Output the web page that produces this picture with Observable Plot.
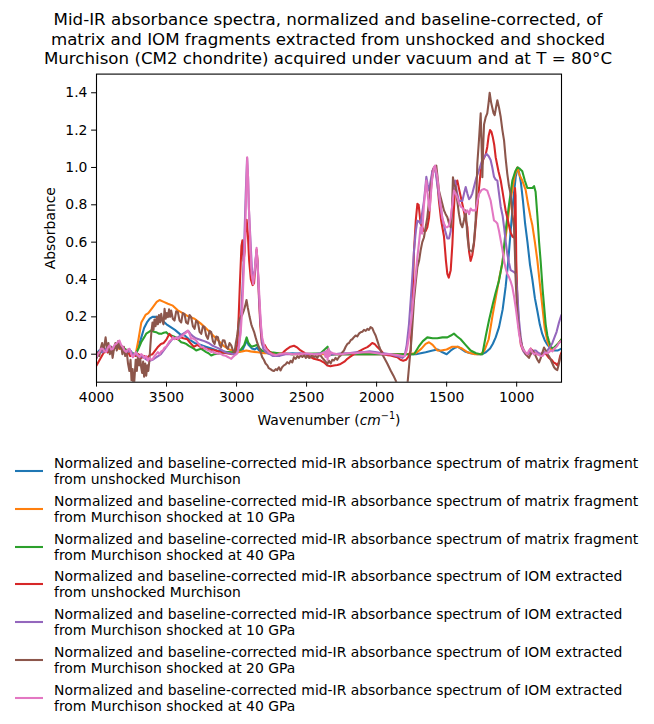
<!DOCTYPE html>
<html>
<head>
<meta charset="utf-8">
<script src="https://cdn.jsdelivr.net/npm/d3@7"></script>
<script src="https://cdn.jsdelivr.net/npm/@observablehq/plot@0.6"></script>
<style>
  body { margin: 0; background: #fff; font-family: "DejaVu Sans", sans-serif; color: #000; }
  #wrap { width: 654px; }
  #title { height: 69px; box-sizing: border-box; padding-top: 10px; padding-left: 2px; text-align: center; font-size: 16.67px; line-height: 19.6px; white-space: pre-line; }
  #chart svg { display: block; }
  #legend { padding-top: 20px; }
  .entry { display: flex; align-items: center; height: 32px; margin-bottom: 5.8px; }
  .entry svg { margin-left: 15px; width: 28px; height: 10px; flex: none; }
  .entry span { margin-left: 11px; font-size: 13.9px; line-height: 16px; white-space: pre-line; }
</style>
</head>
<body>
<div id="wrap">
  <div id="title"></div>
  <div id="chart"></div>
  <div id="legend"></div>
</div>
<script>
const titleText = "Mid-IR absorbance spectra, normalized and baseline-corrected, of\nmatrix and IOM fragments extracted from unshocked and shocked\nMurchison (CM2 chondrite) acquired under vacuum and at T = 80°C";
const xLabel = "Wavenumber (cm-1)";
const yLabel = "Absorbance";
const xTicks = [4000, 3500, 3000, 2500, 2000, 1500, 1000];
const yTicks = [0.0, 0.2, 0.4, 0.6, 0.8, 1.0, 1.2, 1.4];
const seriesLabels = [
  "Normalized and baseline-corrected mid-IR absorbance spectrum of matrix fragment\nfrom unshocked Murchison",
  "Normalized and baseline-corrected mid-IR absorbance spectrum of matrix fragment\nfrom Murchison shocked at 10 GPa",
  "Normalized and baseline-corrected mid-IR absorbance spectrum of matrix fragment\nfrom Murchison shocked at 40 GPa",
  "Normalized and baseline-corrected mid-IR absorbance spectrum of IOM extracted\nfrom unshocked Murchison",
  "Normalized and baseline-corrected mid-IR absorbance spectrum of IOM extracted\nfrom Murchison shocked at 10 GPa",
  "Normalized and baseline-corrected mid-IR absorbance spectrum of IOM extracted\nfrom Murchison shocked at 20 GPa",
  "Normalized and baseline-corrected mid-IR absorbance spectrum of IOM extracted\nfrom Murchison shocked at 40 GPa"
];
const colors = ["#1f77b4", "#ff7f0e", "#2ca02c", "#d62728", "#9467bd", "#8c564b", "#e377c2"];

// [wavenumber cm-1, absorbance]
const matrixUnshocked = [[4000,0.0],[3980,0.02],[3960,0.01],[3940,0.03],[3920,0.02],[3900,0.04],[3880,0.03],[3860,0.05],[3840,0.06],[3820,0.04],[3800,0.02],[3780,0.01],[3760,0.02],[3740,0.0],[3720,0.0],[3700,0.04],[3680,0.09],[3660,0.14],[3640,0.17],[3620,0.19],[3600,0.2],[3580,0.2],[3550,0.2],[3530,0.18],[3500,0.16],[3470,0.145],[3440,0.13],[3400,0.105],[3370,0.1],[3340,0.08],[3300,0.06],[3260,0.05],[3220,0.04],[3180,0.03],[3140,0.02],[3100,0.015],[3060,0.01],[3020,0.0],[2990,0.01],[2960,0.02],[2940,0.05],[2928,0.075],[2915,0.05],[2890,0.03],[2870,0.025],[2855,0.035],[2840,0.02],[2800,0.01],[2750,0.0],[2700,0.0],[2600,0.005],[2500,0.0],[2400,0.0],[2360,0.01],[2340,-0.005],[2300,0.0],[2200,0.0],[2100,0.0],[2000,0.0],[1900,0.0],[1800,0.0],[1720,0.0],[1650,0.01],[1600,0.02],[1565,0.025],[1530,0.01],[1500,0.0],[1470,0.02],[1440,0.035],[1420,0.04],[1400,0.03],[1370,0.015],[1330,0.005],[1280,0.0],[1250,0.0],[1220,0.01],[1190,0.03],[1170,0.056],[1150,0.09],[1126,0.145],[1100,0.24],[1079,0.36],[1060,0.5],[1043,0.66],[1025,0.82],[1007,0.95],[992,1.0],[982,0.97],[970,0.92],[955,0.82],[940,0.7],[923,0.6],[905,0.48],[888,0.4],[870,0.3],[852,0.23],[835,0.16],[818,0.11],[800,0.075],[780,0.05],[757,0.03],[730,0.02],[705,0.02],[680,0.03]];

const matrix10GPa = [[4000,0.0],[3980,0.01],[3960,0.02],[3940,0.01],[3920,0.03],[3900,0.02],[3880,0.03],[3860,0.04],[3840,0.03],[3820,0.03],[3800,0.02],[3780,0.01],[3760,0.015],[3740,0.0],[3720,0.0],[3700,0.08],[3680,0.17],[3650,0.21],[3630,0.22],[3600,0.25],[3570,0.28],[3550,0.29],[3520,0.28],[3490,0.27],[3455,0.26],[3420,0.235],[3384,0.22],[3340,0.2],[3300,0.19],[3257,0.165],[3220,0.14],[3180,0.11],[3140,0.08],[3093,0.045],[3050,0.025],[2995,0.01],[2960,0.015],[2930,0.02],[2900,0.015],[2850,0.01],[2800,0.005],[2700,0.005],[2600,0.0],[2400,0.0],[2200,0.0],[2000,0.0],[1800,0.0],[1720,0.005],[1680,0.03],[1650,0.055],[1626,0.064],[1600,0.05],[1567,0.02],[1540,0.02],[1500,0.025],[1460,0.04],[1424,0.04],[1390,0.03],[1350,0.01],[1300,0.0],[1257,0.0],[1230,0.02],[1200,0.08],[1174,0.2],[1150,0.3],[1126,0.4],[1102,0.49],[1080,0.62],[1066,0.7],[1050,0.8],[1031,0.88],[1015,0.95],[1000,0.99],[995,1.0],[980,0.96],[960,0.93],[936,0.88],[918,0.8],[900,0.73],[888,0.69],[870,0.6],[852,0.5],[835,0.38],[816,0.25],[800,0.14],[781,0.07],[760,0.03],[740,0.02],[720,0.04],[700,0.06],[680,0.08]];

const matrix40GPa = [[4000,0.0],[3960,0.02],[3920,0.01],[3880,0.03],[3840,0.04],[3800,0.03],[3760,0.01],[3720,0.0],[3700,0.03],[3681,0.064],[3660,0.09],[3645,0.11],[3625,0.12],[3610,0.127],[3590,0.12],[3574,0.118],[3555,0.11],[3538,0.109],[3520,0.115],[3502,0.118],[3485,0.105],[3467,0.1],[3449,0.095],[3431,0.09],[3410,0.075],[3395,0.064],[3375,0.06],[3360,0.055],[3340,0.045],[3324,0.038],[3305,0.03],[3288,0.02],[3270,0.025],[3252,0.029],[3235,0.02],[3217,0.011],[3200,0.005],[3181,-0.007],[3160,0.0],[3133,0.002],[3100,0.008],[3062,0.011],[3030,0.01],[3000,0.015],[2970,0.025],[2945,0.05],[2928,0.09],[2915,0.06],[2895,0.04],[2870,0.045],[2855,0.05],[2840,0.035],[2820,0.02],[2790,0.015],[2750,0.01],[2700,0.005],[2600,0.0],[2400,0.005],[2350,0.04],[2340,0.0],[2200,0.0],[2000,0.0],[1850,0.0],[1770,0.0],[1733,0.0],[1700,0.04],[1670,0.07],[1638,0.09],[1600,0.085],[1567,0.085],[1530,0.09],[1495,0.09],[1470,0.1],[1448,0.11],[1425,0.095],[1400,0.08],[1365,0.05],[1329,0.02],[1290,0.005],[1257,0.0],[1245,0.0],[1220,0.1],[1198,0.18],[1170,0.27],[1150,0.33],[1126,0.395],[1100,0.5],[1079,0.66],[1055,0.8],[1031,0.93],[1010,0.98],[995,1.0],[980,0.995],[960,0.98],[942,0.93],[924,0.89],[905,0.89],[888,0.89],[876,0.9],[865,0.87],[852,0.74],[840,0.6],[829,0.5],[815,0.35],[800,0.22],[793,0.16],[781,0.1],[770,0.07],[757,0.04],[740,0.03],[720,0.045],[700,0.06],[680,0.08]];

const iomUnshocked = [[4000,-0.06],[3985,-0.04],[3970,-0.02],[3955,0.0],[3940,0.02],[3920,0.01],[3900,0.03],[3880,0.02],[3860,0.05],[3840,0.04],[3820,0.03],[3800,0.01],[3780,0.02],[3760,-0.01],[3740,0.0],[3720,-0.01],[3700,0.0],[3680,-0.02],[3660,-0.01],[3640,-0.02],[3620,-0.005],[3600,0.0],[3580,0.02],[3560,0.04],[3540,0.055],[3520,0.06],[3500,0.08],[3479,0.109],[3460,0.09],[3440,0.085],[3420,0.08],[3400,0.09],[3380,0.085],[3352,0.08],[3330,0.06],[3305,0.04],[3280,0.05],[3250,0.035],[3220,0.03],[3190,0.025],[3150,0.02],[3110,0.01],[3070,0.005],[3030,0.0],[3010,0.01],[2995,0.05],[2985,0.2],[2975,0.4],[2965,0.58],[2958,0.61],[2950,0.5],[2942,0.55],[2935,0.68],[2928,0.72],[2920,0.65],[2910,0.5],[2898,0.4],[2885,0.37],[2875,0.38],[2865,0.48],[2857,0.56],[2850,0.5],[2840,0.3],[2830,0.15],[2820,0.06],[2810,0.04],[2800,0.05],[2785,0.03],[2760,0.01],[2740,0.0],[2720,-0.01],[2700,-0.01],[2680,0.0],[2660,0.015],[2638,0.029],[2615,0.04],[2590,0.045],[2565,0.035],[2543,0.02],[2520,0.01],[2495,-0.007],[2470,-0.015],[2448,-0.025],[2420,-0.03],[2400,-0.034],[2375,-0.045],[2352,-0.061],[2330,-0.065],[2305,-0.061],[2280,-0.058],[2257,-0.052],[2230,-0.04],[2209,-0.025],[2185,-0.012],[2162,0.0],[2140,0.01],[2114,0.02],[2090,0.03],[2066,0.038],[2045,0.05],[2031,0.06],[2015,0.055],[1995,0.038],[1970,0.02],[1948,0.0],[1920,-0.005],[1900,-0.007],[1875,-0.012],[1852,-0.016],[1830,-0.03],[1810,-0.035],[1790,-0.03],[1770,-0.01],[1757,0.02],[1745,0.25],[1733,0.555],[1720,0.72],[1709,0.805],[1700,0.8],[1686,0.7],[1674,0.68],[1662,0.66],[1650,0.66],[1638,0.68],[1626,0.73],[1614,0.86],[1602,0.98],[1590,1.0],[1579,1.0],[1567,0.93],[1555,0.82],[1540,0.72],[1519,0.63],[1505,0.5],[1495,0.43],[1485,0.41],[1471,0.45],[1459,0.59],[1450,0.75],[1441,0.876],[1430,0.92],[1424,0.93],[1410,0.88],[1388,0.805],[1370,0.74],[1352,0.68],[1340,0.55],[1329,0.5],[1317,0.53],[1305,0.59],[1290,0.72],[1270,0.88],[1257,0.98],[1240,1.04],[1221,1.07],[1210,1.11],[1200,1.17],[1190,1.2],[1180,1.19],[1170,1.16],[1160,1.12],[1150,1.055],[1130,0.98],[1114,0.93],[1102,0.876],[1090,0.82],[1079,0.77],[1067,0.73],[1055,0.69],[1043,0.65],[1030,0.63],[1019,0.625],[1015,0.63],[1012,0.89],[1008,0.85],[1003,0.5],[995,0.3],[985,0.15],[970,0.05],[955,0.02],[940,0.01],[924,-0.005],[912,0.01],[900,0.03],[888,0.02],[876,0.0],[864,0.005],[850,0.0],[830,0.0],[810,0.01],[790,0.0],[770,-0.02],[750,-0.03],[735,-0.045],[722,-0.05],[710,-0.06],[698,-0.04],[690,-0.01],[680,0.01]];

const iom10GPa = [[4000,-0.02],[3985,0.0],[3970,0.02],[3955,0.01],[3940,0.03],[3920,0.02],[3900,0.04],[3880,0.03],[3860,0.05],[3840,0.06],[3820,0.04],[3800,0.02],[3780,0.01],[3760,0.02],[3740,0.0],[3720,0.0],[3700,-0.01],[3680,-0.01],[3660,-0.02],[3640,-0.03],[3620,-0.035],[3600,-0.03],[3580,-0.02],[3560,-0.01],[3540,0.0],[3520,0.02],[3500,0.04],[3480,0.06],[3460,0.08],[3440,0.085],[3420,0.09],[3400,0.1],[3380,0.11],[3360,0.12],[3345,0.125],[3330,0.11],[3310,0.095],[3290,0.085],[3270,0.08],[3250,0.075],[3230,0.07],[3200,0.06],[3170,0.045],[3140,0.035],[3110,0.025],[3080,0.01],[3050,0.005],[3020,0.0],[3000,0.005],[2990,0.02],[2975,0.1],[2965,0.25],[2955,0.4],[2945,0.6],[2935,0.85],[2925,1.05],[2918,0.95],[2912,0.78],[2900,0.6],[2890,0.45],[2880,0.4],[2870,0.45],[2862,0.52],[2856,0.54],[2850,0.48],[2842,0.35],[2833,0.22],[2820,0.08],[2810,0.03],[2790,0.01],[2760,0.0],[2740,-0.01],[2700,-0.01],[2650,0.0],[2600,0.0],[2550,0.005],[2500,0.0],[2450,0.0],[2400,0.005],[2370,0.01],[2355,-0.01],[2340,0.02],[2320,0.0],[2300,0.0],[2250,0.005],[2200,0.005],[2150,0.01],[2100,0.01],[2050,0.015],[2000,0.01],[1950,0.005],[1900,0.0],[1860,-0.01],[1830,-0.015],[1816,-0.02],[1800,-0.01],[1785,0.05],[1769,0.16],[1750,0.36],[1733,0.555],[1720,0.66],[1709,0.715],[1697,0.71],[1686,0.7],[1674,0.76],[1662,0.82],[1650,0.91],[1645,0.95],[1636,0.91],[1626,0.876],[1614,0.93],[1602,0.98],[1590,1.0],[1583,1.0],[1567,0.91],[1550,0.82],[1531,0.73],[1510,0.66],[1495,0.62],[1483,0.62],[1471,0.66],[1460,0.8],[1448,0.91],[1440,0.93],[1425,0.86],[1412,0.82],[1400,0.82],[1388,0.82],[1376,0.86],[1364,0.895],[1352,0.86],[1340,0.83],[1329,0.84],[1317,0.86],[1305,0.895],[1290,0.94],[1269,0.985],[1250,1.03],[1233,1.055],[1215,1.073],[1200,1.06],[1186,1.04],[1174,1.0],[1162,0.95],[1150,0.935],[1138,0.93],[1126,0.86],[1114,0.79],[1100,0.74],[1090,0.68],[1078,0.6],[1067,0.537],[1055,0.49],[1043,0.45],[1031,0.445],[1019,0.44],[1007,0.43],[995,0.32],[983,0.18],[971,0.09],[960,0.036],[948,0.01],[936,0.0],[924,0.0],[912,0.01],[900,0.0],[888,0.01],[876,0.02],[864,0.02],[850,0.01],[830,0.0],[816,0.005],[800,0.01],[780,0.02],[760,0.04],[745,0.06],[730,0.09],[715,0.12],[698,0.17],[685,0.2],[680,0.21]];

const iom20GPa = [[4000,-0.02],[3990,0.01],[3980,-0.01],[3970,0.03],[3960,0.06],[3950,0.02],[3943,0.05],[3935,0.09],[3925,0.03],[3915,0.06],[3905,0.0],[3895,0.04],[3885,-0.02],[3875,0.03],[3865,0.06],[3855,0.02],[3845,0.07],[3835,0.03],[3825,0.05],[3815,0.0],[3805,0.04],[3795,-0.01],[3785,0.02],[3775,-0.05],[3765,-0.09],[3757,-0.03],[3750,-0.14],[3742,-0.08],[3735,-0.2],[3728,-0.12],[3720,-0.03],[3712,-0.09],[3705,-0.016],[3695,-0.06],[3688,-0.02],[3681,-0.07],[3674,-0.1],[3667,-0.04],[3660,-0.12],[3652,-0.05],[3645,-0.115],[3637,-0.06],[3630,-0.09],[3622,-0.03],[3615,0.05],[3608,0.12],[3600,0.17],[3593,0.13],[3586,0.186],[3578,0.15],[3570,0.2],[3562,0.16],[3554,0.21],[3546,0.17],[3538,0.216],[3530,0.18],[3522,0.16],[3514,0.243],[3506,0.19],[3498,0.22],[3490,0.198],[3482,0.24],[3474,0.2],[3467,0.234],[3455,0.19],[3443,0.18],[3431,0.23],[3419,0.225],[3407,0.18],[3395,0.17],[3384,0.22],[3372,0.216],[3360,0.17],[3348,0.163],[3336,0.21],[3324,0.198],[3312,0.15],[3300,0.136],[3288,0.18],[3276,0.17],[3264,0.12],[3252,0.109],[3240,0.15],[3229,0.145],[3217,0.1],[3205,0.082],[3193,0.125],[3181,0.118],[3169,0.07],[3157,0.055],[3145,0.095],[3133,0.091],[3121,0.05],[3110,0.038],[3098,0.075],[3086,0.073],[3074,0.04],[3062,0.029],[3050,0.06],[3038,0.047],[3026,0.02],[3014,0.011],[3005,0.06],[2995,0.1],[2983,0.18],[2971,0.2],[2960,0.21],[2948,0.234],[2938,0.26],[2929,0.29],[2920,0.25],[2907,0.2],[2895,0.16],[2888,0.145],[2875,0.12],[2864,0.09],[2852,0.06],[2840,0.037],[2828,0.01],[2817,-0.016],[2805,-0.03],[2793,-0.05],[2780,-0.06],[2770,-0.075],[2758,-0.08],[2745,-0.087],[2733,-0.09],[2720,-0.08],[2710,-0.085],[2698,-0.07],[2686,-0.087],[2675,-0.07],[2662,-0.06],[2650,-0.055],[2638,-0.043],[2625,-0.05],[2614,-0.035],[2602,-0.044],[2590,-0.016],[2578,-0.025],[2565,-0.01],[2555,-0.02],[2543,-0.007],[2530,-0.015],[2518,-0.005],[2505,-0.02],[2495,-0.01],[2483,-0.02],[2471,-0.016],[2460,-0.005],[2448,-0.015],[2436,-0.01],[2424,-0.02],[2412,-0.005],[2400,-0.007],[2388,-0.02],[2376,-0.03],[2364,-0.04],[2352,-0.052],[2340,-0.035],[2328,-0.05],[2317,-0.03],[2305,-0.034],[2293,-0.02],[2281,-0.03],[2269,-0.015],[2257,-0.007],[2245,0.01],[2233,0.02],[2221,0.04],[2209,0.055],[2197,0.06],[2185,0.075],[2174,0.08],[2162,0.091],[2150,0.1],[2138,0.095],[2126,0.11],[2114,0.118],[2102,0.12],[2090,0.13],[2078,0.125],[2066,0.136],[2055,0.13],[2043,0.145],[2031,0.14],[2019,0.118],[2007,0.1],[1995,0.073],[1983,0.045],[1971,0.02],[1960,0.0],[1948,-0.016],[1924,-0.05],[1900,-0.087],[1880,-0.115],[1864,-0.14],[1850,-0.17],[1830,-0.22],[1810,-0.24],[1790,-0.2],[1781,-0.17],[1775,-0.12],[1769,-0.07],[1763,-0.02],[1757,0.02],[1745,0.15],[1733,0.29],[1720,0.39],[1709,0.466],[1697,0.5],[1686,0.555],[1674,0.6],[1662,0.625],[1650,0.68],[1638,0.733],[1626,0.82],[1614,0.895],[1602,0.95],[1590,1.0],[1574,1.01],[1565,0.95],[1555,0.876],[1543,0.84],[1531,0.805],[1519,0.77],[1507,0.75],[1495,0.733],[1483,0.7],[1471,0.68],[1463,0.75],[1455,0.948],[1448,0.91],[1436,0.895],[1424,0.82],[1412,0.75],[1400,0.7],[1388,0.68],[1376,0.72],[1364,0.77],[1352,0.63],[1340,0.56],[1329,0.555],[1317,0.55],[1305,0.6],[1293,0.716],[1281,1.02],[1269,1.15],[1257,1.29],[1250,1.1],[1245,0.948],[1240,1.1],[1233,1.23],[1221,1.27],[1210,1.29],[1200,1.35],[1193,1.4],[1183,1.35],[1174,1.32],[1165,1.29],[1157,1.28],[1148,1.32],[1138,1.36],[1126,1.32],[1114,1.27],[1102,1.2],[1090,1.144],[1079,1.05],[1067,0.966],[1055,0.9],[1043,0.858],[1031,0.75],[1019,0.68],[1013,0.55],[1007,0.39],[1001,0.3],[995,0.216],[983,0.13],[971,0.073],[960,0.04],[948,0.02],[936,0.0],[924,-0.01],[912,-0.02],[900,0.0],[888,0.02],[876,0.01],[864,-0.01],[852,-0.03],[840,-0.044],[828,-0.02],[816,0.01],[805,0.036],[793,0.02],[781,0.0],[770,-0.01],[757,-0.03],[745,-0.05],[733,-0.07],[722,-0.08],[710,-0.085],[698,-0.05],[690,-0.02],[680,0.0]];

const iom40GPa = [[4000,-0.016],[3990,0.0],[3979,0.011],[3967,0.03],[3955,0.029],[3943,0.015],[3931,0.011],[3919,0.035],[3907,0.047],[3895,0.025],[3883,0.029],[3871,0.05],[3860,0.055],[3848,0.065],[3836,0.073],[3824,0.05],[3812,0.038],[3800,0.02],[3788,0.011],[3776,0.025],[3764,0.029],[3752,0.0],[3740,-0.016],[3728,0.0],[3717,0.011],[3705,-0.005],[3693,-0.016],[3681,0.0],[3669,-0.007],[3657,-0.02],[3645,-0.01],[3633,-0.034],[3621,-0.02],[3610,-0.03],[3598,-0.025],[3586,-0.01],[3574,0.0],[3562,0.011],[3550,0.0],[3538,0.015],[3526,0.02],[3514,0.035],[3502,0.04],[3490,0.055],[3478,0.07],[3467,0.075],[3455,0.091],[3443,0.08],[3431,0.09],[3419,0.082],[3407,0.09],[3395,0.095],[3383,0.1],[3371,0.11],[3360,0.115],[3348,0.127],[3336,0.11],[3324,0.082],[3312,0.085],[3300,0.08],[3288,0.073],[3276,0.06],[3264,0.05],[3252,0.038],[3240,0.04],[3229,0.03],[3217,0.029],[3205,0.02],[3193,0.02],[3181,0.011],[3169,0.015],[3157,0.008],[3145,0.005],[3133,0.002],[3121,0.005],[3110,0.0],[3098,-0.005],[3086,-0.007],[3074,-0.01],[3062,-0.015],[3050,-0.02],[3038,-0.025],[3026,-0.015],[3014,-0.007],[3000,0.0],[2990,0.015],[2983,0.037],[2970,0.12],[2959,0.25],[2950,0.42],[2940,0.61],[2932,0.85],[2924,1.055],[2918,0.95],[2912,0.79],[2902,0.6],[2893,0.43],[2881,0.375],[2869,0.46],[2857,0.57],[2848,0.46],[2840,0.35],[2833,0.25],[2825,0.15],[2817,0.09],[2805,0.05],[2793,0.03],[2770,0.01],[2746,0.0],[2720,-0.005],[2700,0.0],[2650,0.005],[2600,0.0],[2550,0.0],[2500,0.005],[2450,0.0],[2400,0.0],[2375,0.01],[2365,-0.015],[2358,0.02],[2350,-0.03],[2343,0.03],[2336,-0.01],[2328,0.01],[2310,0.005],[2280,0.0],[2250,0.0],[2200,0.005],[2150,0.005],[2100,0.01],[2050,0.01],[2000,0.005],[1950,0.0],[1900,0.0],[1850,-0.005],[1816,-0.01],[1800,-0.01],[1785,0.02],[1769,0.09],[1750,0.2],[1733,0.34],[1720,0.43],[1709,0.52],[1697,0.6],[1686,0.68],[1675,0.645],[1662,0.8],[1650,0.895],[1645,0.93],[1635,0.85],[1626,0.79],[1621,0.77],[1612,0.86],[1602,0.95],[1590,1.0],[1583,1.01],[1575,0.98],[1567,0.95],[1550,0.84],[1531,0.73],[1519,0.7],[1507,0.68],[1495,0.68],[1483,0.69],[1471,0.73],[1460,0.8],[1448,0.876],[1436,0.86],[1424,0.84],[1412,0.81],[1400,0.79],[1388,0.785],[1376,0.77],[1364,0.76],[1352,0.77],[1340,0.75],[1329,0.78],[1317,0.77],[1305,0.77],[1293,0.77],[1281,0.82],[1269,0.858],[1250,0.88],[1233,0.885],[1220,0.88],[1210,0.876],[1198,0.85],[1186,0.823],[1174,0.77],[1162,0.716],[1150,0.71],[1138,0.7],[1126,0.66],[1114,0.61],[1102,0.56],[1090,0.5],[1079,0.46],[1067,0.43],[1055,0.413],[1043,0.39],[1031,0.36],[1019,0.31],[1007,0.25],[995,0.18],[983,0.11],[971,0.06],[960,0.035],[948,0.02],[936,0.01],[924,0.0],[912,0.02],[900,0.03],[888,0.01],[876,0.0],[864,0.005],[852,0.0],[840,-0.005],[828,-0.01],[816,-0.01],[805,0.0],[793,0.01],[781,0.005],[770,0.01],[757,0.02],[745,0.015],[733,0.03],[722,0.035],[710,0.045],[698,0.06],[685,0.07],[680,0.07]];

const allSeries = [matrixUnshocked, matrix10GPa, matrix40GPa, iomUnshocked, iom10GPa, iom20GPa, iom40GPa];

document.getElementById("title").textContent = titleText;

const plot = Plot.plot({
  width: 654,
  height: 366,
  marginLeft: 96,
  marginRight: 93,
  marginTop: 4.6,
  marginBottom: 53.3,
  style: {fontFamily: "DejaVu Sans", fontSize: "13.9px", color: "#000", background: "#fff", overflow: "visible"},
  x: {domain: [4000, 680], ticks: xTicks, tickFormat: d => String(d), tickSize: 4.9, tickPadding: 5.2, label: null},
  y: {domain: [-0.15, 1.5], ticks: yTicks, tickFormat: d3.format(".1f"), tickSize: 4.9, tickPadding: 4.2, label: null},
  marks: [
    ...allSeries.map((s, i) => Plot.line(s, {x: d => d[0], y: d => d[1], stroke: colors[i], strokeWidth: 2.08, clip: true})),
    Plot.frame({stroke: "#000", strokeWidth: 1.1}),
    Plot.text([yLabel], {frameAnchor: "left", dx: -46, rotate: -90, textAnchor: "middle", lineAnchor: "middle", fontSize: 13.9, fill: "#000"}),
    Plot.text([xLabel], {frameAnchor: "bottom", dy: 38.5, textAnchor: "middle", lineAnchor: "middle", fontSize: 13.9, fill: "#000"})
  ]
});
document.getElementById("chart").appendChild(plot);

// render "cm" in italic and "-1" as a superscript, like the matplotlib mathtext label
plot.querySelectorAll("text").forEach(t => {
  if (t.textContent === xLabel) {
    t.textContent = "";
    const ns = "http://www.w3.org/2000/svg";
    const a = document.createElementNS(ns, "tspan"); a.textContent = "Wavenumber (";
    const b = document.createElementNS(ns, "tspan"); b.textContent = "cm"; b.setAttribute("font-style", "italic");
    const c = document.createElementNS(ns, "tspan"); c.textContent = "\u22121"; c.setAttribute("font-size", "9.7px"); c.setAttribute("dy", "-6");
    const d = document.createElementNS(ns, "tspan"); d.textContent = ")"; d.setAttribute("dy", "6");
    t.append(a, b, c, d);
  }
});

const legend = document.getElementById("legend");
seriesLabels.forEach((lab, i) => {
  const e = document.createElement("div");
  e.className = "entry";
  e.innerHTML = `<svg viewBox="0 0 28 10"><line x1="0" y1="5" x2="28" y2="5" stroke="${colors[i]}" stroke-width="2.08"/></svg>`;
  const s = document.createElement("span");
  s.textContent = lab;
  e.appendChild(s);
  legend.appendChild(e);
});
</script>
</body>
</html>
